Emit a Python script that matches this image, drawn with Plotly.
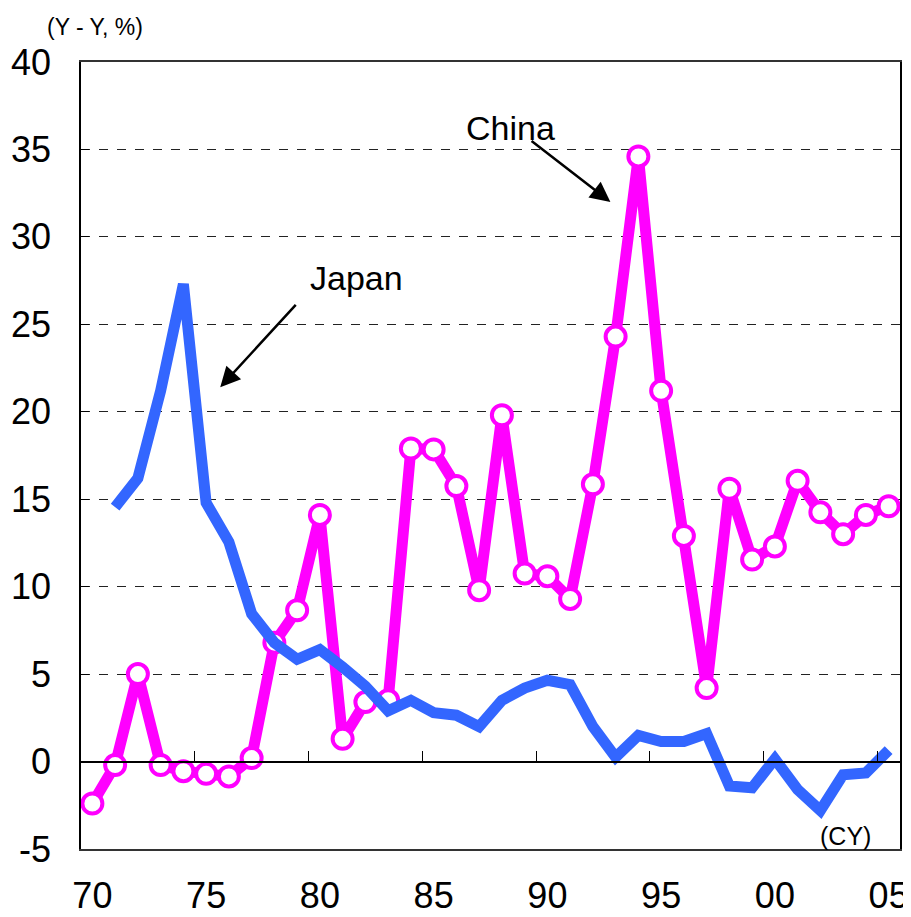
import plotly.graph_objects as go

# calendar years and year-on-year changes (%)
years_china = list(range(1970, 2006))
china = [-2.4, -0.2, 5.0, -0.2, -0.55, -0.7, -0.85, 0.2, 6.8, 8.65,
         14.1, 1.3, 3.4, 3.5, 17.9, 17.85, 15.75, 9.8, 19.8, 10.75,
         10.6, 9.3, 15.85, 24.3, 34.6, 21.2, 12.9, 4.2, 15.6, 11.55,
         12.3, 16.05, 14.25, 13.0, 14.1, 14.6]

years_japan = list(range(1971, 2006))
japan = [14.55, 16.2, 21.2, 27.3, 14.8, 12.55, 8.45, 6.8, 5.85,
         6.4, 5.4, 4.3, 2.9, 3.5, 2.8, 2.65, 2.0, 3.5, 4.2,
         4.65, 4.4, 2.0, 0.25, 1.5, 1.15, 1.15, 1.6, -1.4, -1.5,
         0.15, -1.6, -2.8, -0.75, -0.65, 0.65]

tick_years = [1970, 1975, 1980, 1985, 1990, 1995, 2000, 2005]
tick_text = ["70", "75", "80", "85", "90", "95", "00", "05"]
y_ticks = [-5, 0, 5, 10, 15, 20, 25, 30, 35, 40]
y_text = ["-5", "0", "5", "10", "15", "20", "25", "30", "35", "40"]

FONT = "Arial, Liberation Sans, sans-serif"
BLUE = "#3366FF"
MAGENTA = "#FF00FF"

fig = go.Figure()

# Japan on the overlaid axis (same range) so that axis gets drawn at y=0
fig.add_trace(go.Scatter(
    x=years_japan, y=japan, mode="lines", name="Japan",
    line=dict(color=BLUE, width=11),
    xaxis="x2", yaxis="y",
))
fig.add_trace(go.Scatter(
    x=years_china, y=china, mode="lines+markers", name="China",
    line=dict(color=MAGENTA, width=11),
    marker=dict(symbol="circle", size=20, color="white",
                line=dict(color=MAGENTA, width=4)),
))

# page body has an 8px margin, so the figure is a bit smaller than the window
fig.update_layout(
    width=903, height=909,
    margin=dict(l=73, r=11, t=54, b=68),
    paper_bgcolor="white", plot_bgcolor="white",
    showlegend=False,
    font=dict(family=FONT, color="black", size=35),
    xaxis=dict(
        range=[1969.5, 2005.5], tickvals=tick_years, ticktext=tick_text,
        ticks="", showgrid=False, zeroline=False, automargin=False,
        showline=True, linecolor="#333333", linewidth=1.5, mirror=True,
        tickfont=dict(size=36), ticklabelstandoff=14,
    ),
    # tick marks between categories, sitting on the zero line
    xaxis2=dict(
        range=[1969.5, 2005.5], overlaying="x", anchor="free",
        position=5 / 45, side="bottom", automargin=False,
        tickvals=[1974.5, 1979.5, 1984.5, 1989.5, 1994.5, 1999.5, 2004.5],
        ticks="inside", ticklen=10, tickwidth=1.2, tickcolor="black",
        showticklabels=False, showgrid=False, zeroline=False,
        showline=True, linecolor="black", linewidth=1.5,
    ),
    yaxis=dict(
        range=[-5, 40], tickvals=y_ticks, ticktext=y_text,
        ticks="inside", ticklen=8, tickcolor="black", automargin=False,
        showgrid=True, gridcolor="#222222", gridwidth=1, griddash="dash",
        zeroline=False,
        showline=True, linecolor="black", linewidth=1.5, mirror=True,
        tickfont=dict(size=36), ticklabelstandoff=21,
    ),
)

# arrows and labels
fig.add_annotation(x=1975.62, y=21.4, ax=1979.0, ay=26.2,
                   xref="x", yref="y", axref="x", ayref="y",
                   text="", showarrow=True, arrowhead=2, arrowsize=1.6,
                   arrowwidth=2.5, arrowcolor="black")
fig.add_annotation(x=1992.77, y=32.0, ax=1989.24, ay=35.55,
                   xref="x", yref="y", axref="x", ayref="y",
                   text="", showarrow=True, arrowhead=2, arrowsize=1.6,
                   arrowwidth=2.5, arrowcolor="black")
fig.add_annotation(x=1981.6, y=27.65, text="Japan", showarrow=False,
                   font=dict(size=34))
fig.add_annotation(x=1988.4, y=36.2, text="China", showarrow=False,
                   font=dict(size=34))
fig.add_annotation(x=2003.1, y=-4.25, text="(CY)", showarrow=False,
                   font=dict(size=25))
fig.add_annotation(x=-0.044, y=1.044, xref="paper", yref="paper",
                   xanchor="left", yanchor="middle",
                   text="(Y - Y, %)", showarrow=False, font=dict(size=23))

fig.write_html("out.html")
